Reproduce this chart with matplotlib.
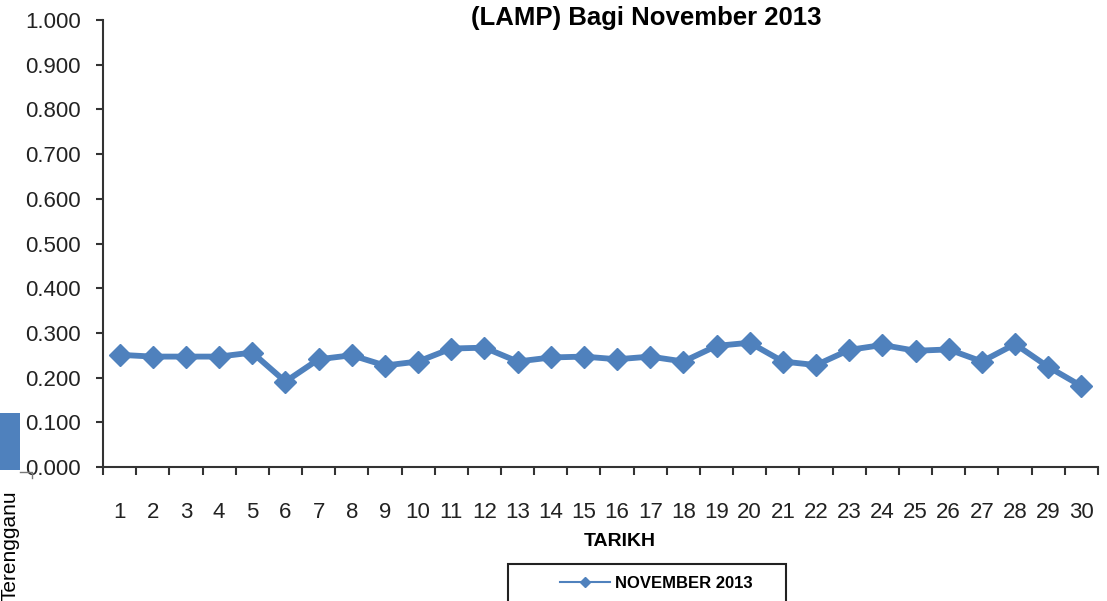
import matplotlib
matplotlib.use('Agg')
import matplotlib.pyplot as plt
from matplotlib.lines import Line2D
from matplotlib.patches import Rectangle

# Daily values
tarikh = list(range(1, 31))
nov_2013 = [0.251, 0.247, 0.247, 0.247, 0.256, 0.191, 0.241, 0.250, 0.227, 0.236,
            0.265, 0.267, 0.236, 0.245, 0.247, 0.241, 0.247, 0.236, 0.271, 0.278,
            0.236, 0.228, 0.262, 0.273, 0.260, 0.263, 0.236, 0.275, 0.224, 0.181]
y_ticks = [0.0, 0.1, 0.2, 0.3, 0.4, 0.5, 0.6, 0.7, 0.8, 0.9, 1.0]

plain = ['Liberation Sans', 'DejaVu Sans']
blue = '#4F81BD'
W, H = 1107, 601

fig = plt.figure(figsize=(W / 100, H / 100), dpi=100)
ax = fig.add_axes([103 / W, 1 - 467 / H, (1098 - 103) / W, (467 - 20) / H])

ax.plot(tarikh, nov_2013, color=blue, lw=4.2, marker='D', ms=11,
        markeredgecolor=blue, solid_joinstyle='round')

ax.set_xlim(0.5, 30.5)
ax.set_ylim(0, 1.0)
ax.set_yticks(y_ticks)
ax.set_yticklabels([f'{v:.3f}' for v in y_ticks], family=plain, fontsize=16,
                   color='#222222')
ax.tick_params(axis='y', length=5, width=1.5, pad=11, color='#333333')

# ticks between categories, labels in the middle
ax.set_xticks([i + 0.5 for i in range(0, 31)])
ax.set_xticklabels([])
ax.tick_params(axis='x', which='major', length=6, width=1.5, color='#333333')
ax.set_xticks(tarikh, minor=True)
ax.set_xticklabels([str(t) for t in tarikh], minor=True, family=plain,
                   fontsize=16, color='#222222')
ax.tick_params(axis='x', which='minor', length=0, pad=25)

for s in ['top', 'right']:
    ax.spines[s].set_visible(False)
for s in ['left', 'bottom']:
    ax.spines[s].set_linewidth(1.5)
    ax.spines[s].set_color('#333333')

fig.text(646 / W, 1 - 25 / H, '(LAMP) Bagi November 2013', ha='center',
         va='baseline', family=plain, fontsize=18.5, fontweight='bold')
fig.text(620 / W, 1 - 541 / H, 'TARIKH', ha='center', va='center',
         family=plain, fontsize=14, fontweight='bold')

# legend box cut by the bottom edge
fig.patches.append(Rectangle((508 / W, -0.05), 278 / W, 0.05 + 1 - 564 / H,
                             transform=fig.transFigure, fill=False,
                             edgecolor='#222222', lw=1.5))
handle = Line2D([], [], color=blue, lw=1.5, marker='D', ms=5)
fig.legend([handle], ['NOVEMBER 2013'], loc='center left',
           bbox_to_anchor=(552 / W, 1 - 583 / H), frameon=False,
           handlelength=3.0, handletextpad=0.3, borderpad=0,
           prop={'family': plain, 'weight': 'bold', 'size': 12})

# bits of the neighbouring page at the left edge
fig.patches.append(Rectangle((0, 1 - 470 / H), 20 / W, 57 / H,
                             transform=fig.transFigure, color='#4F81BD', lw=0))
fig.lines.append(Line2D([20 / W, 32 / W, 32 / W],
                        [1 - 472 / H, 1 - 472 / H, 1 - 478 / H],
                        transform=fig.transFigure, color='#777777', lw=1))
fig.text(0.5 / W, 1 - 490 / H, 'Terengganu', rotation=90, ha='left', va='top',
         family=plain, fontsize=15)

fig.savefig('out.png', dpi=100)
